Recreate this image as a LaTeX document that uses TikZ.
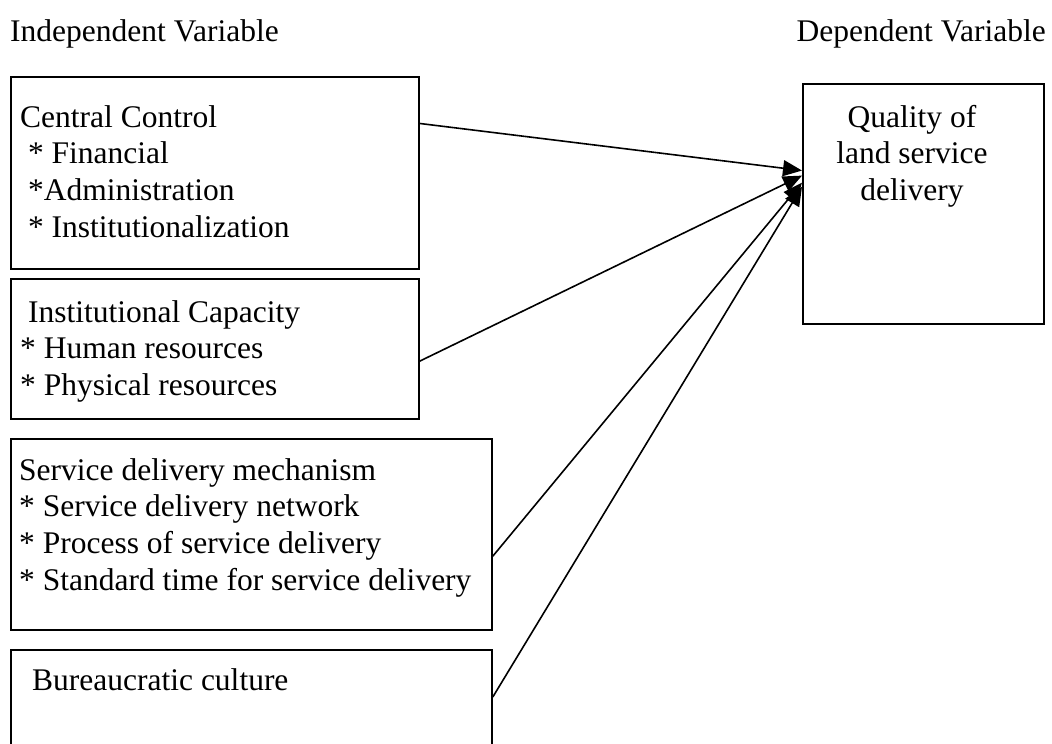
\documentclass[tikz,border=0pt]{standalone}
\usepackage{fontspec}
\setmainfont{Liberation Serif}
\usetikzlibrary{arrows.meta,calc}
\begin{document}
\begin{tikzpicture}[x=1pt,y=-1pt,
  box/.style={draw, line width=1.8pt, rectangle, inner sep=0pt, anchor=north west},
  txt/.style={inner sep=0pt, font=\fontsize{31.5}{36.7}\selectfont},
  listtext/.style={txt, anchor=base west, align=left},
  link/.style={line width=1.6pt, -{Triangle[length=19pt,width=16pt]}}]
\useasboundingbox (0,0) rectangle (1052,744);
\clip (0,0) rectangle (1052,744);

% column headings
\node[txt, anchor=base west] (hin) at (10,41) {Independent Variable};
\node[txt, anchor=base east] (hdep) at (1046,41) {Dependent Variable};

% independent variable boxes
\node[box, minimum width=408pt, minimum height=192pt] (b1) at (10,76) {};
\node[box, minimum width=408pt, minimum height=140pt] (b2) at (10,278) {};
\node[box, minimum width=481pt, minimum height=191pt] (b3) at (10,438) {};
\node[box, minimum width=481pt, minimum height=130pt] (b4) at (10,649) {};

% dependent variable box
\node[box, minimum width=241pt, minimum height=240pt] (q) at (802,83) {};

% box texts (a multi-line node's base is its last line's baseline)
\node[listtext] (t1) at (20,237.1) {Central Control\\\ * Financial\\\ *Administration\\\ * Institutionalization};
\node[listtext] (t2) at (20,395.4) {\ Institutional Capacity\\* Human resources\\* Physical resources};
\node[listtext] (t3) at (19,590.1) {Service delivery mechanism\\* Service delivery network\\* Process of service delivery\\* Standard time for service delivery};
\node[listtext] (t4) at (32,690) {Bureaucratic culture};
\node[txt, anchor=base, align=center] (tq) at (912,200.4) {Quality of\\land service\\delivery};

% connectors into the dependent variable
\draw[link] ($(b1.north east)!0.245!(b1.south east)$) -- ($(q.north west)!0.362!(q.south west)$);
\draw[link] ($(b2.north east)!0.586!(b2.south east)$) -- ($(q.north west)!0.383!(q.south west)$);
\draw[link] ($(b3.north east)!0.613!(b3.south east)$) -- ($(q.north west)!0.412!(q.south west)$);
\draw[link] ($(b4.north east)+(0,48)$) -- ($(q.north west)!0.429!(q.south west)$);
\end{tikzpicture}
\end{document}
